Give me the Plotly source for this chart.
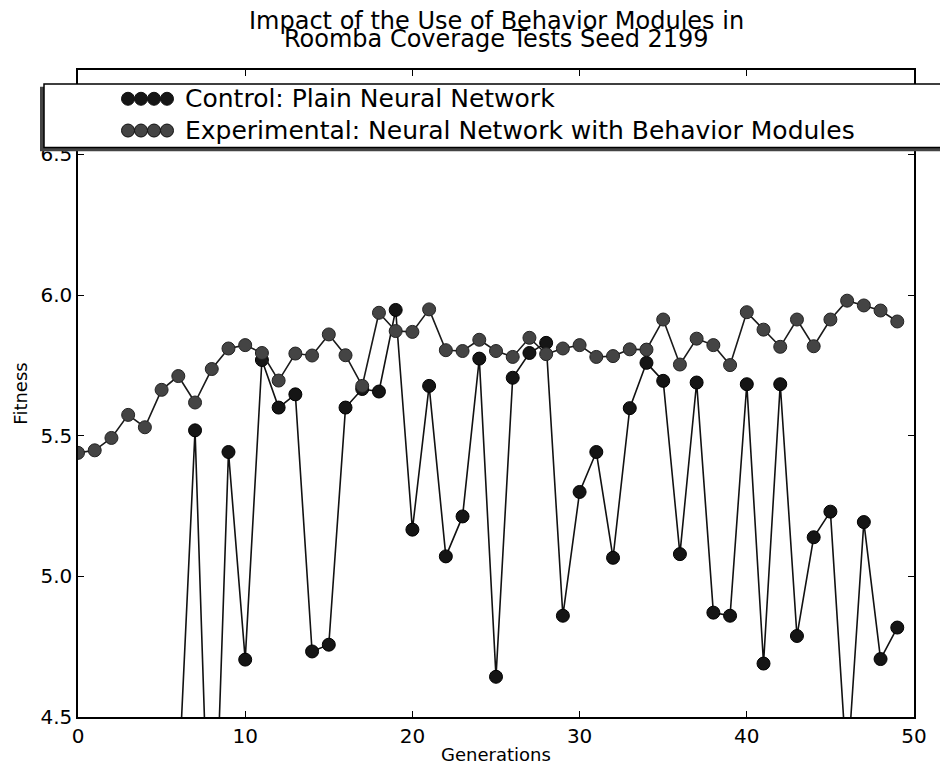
import plotly.graph_objects as go

# ---- data ----
generations = list(range(50))
control = [3.90, 4.00, 3.80, 4.10, 3.90, 4.00, 4.25, 5.519, 3.70, 5.442,
           4.704, 5.769, 5.600, 5.647, 4.733, 4.757, 5.600, 5.666, 5.657, 5.947,
           5.166, 5.677, 5.071, 5.213, 5.774, 4.643, 5.706, 5.794, 5.830, 4.860,
           5.300, 5.442, 5.066, 5.598, 5.759, 5.695, 5.079, 5.689, 4.871, 4.860,
           5.683, 4.690, 5.683, 4.788, 5.139, 5.230, 4.300, 5.193, 4.706, 4.818]
experimental = [5.439, 5.448, 5.492, 5.574, 5.530, 5.663, 5.712, 5.618, 5.737, 5.810,
                5.822, 5.794, 5.696, 5.792, 5.785, 5.860, 5.786, 5.677, 5.937, 5.872,
                5.869, 5.949, 5.804, 5.801, 5.841, 5.801, 5.780, 5.848, 5.790, 5.810,
                5.822, 5.780, 5.783, 5.807, 5.806, 5.913, 5.753, 5.845, 5.822, 5.751,
                5.939, 5.877, 5.816, 5.913, 5.818, 5.913, 5.980, 5.963, 5.945, 5.906]
series_names = ["Control: Plain Neural Network",
                "Experimental: Neural Network with Behavior Modules"]
x_ticks = [0, 10, 20, 30, 40, 50]
y_ticks = [4.5, 5.0, 5.5, 6.0, 6.5]
title_lines = ["Impact of the Use of Behavior Modules in",
               "Roomba Coverage Tests Seed 2199"]

FONT = "DejaVu Sans"
OFF = 8                      # page body margin
W, H = 932, 766
X0, X1, Y0, Y1 = 78, 914, 70, 722   # plot area on the page
L, T = X0 - OFF, Y0 - OFF
R, B = (OFF + W) - X1, (OFF + H) - Y1
PW, PH = X1 - X0, Y1 - Y0


def px(x):
    return (x - X0) / PW


def py(y):
    return (Y1 - y) / PH


fig = go.Figure()
fig.add_trace(go.Scatter(
    x=generations, y=control, mode="lines+markers", name=series_names[0],
    line=dict(color="#111111", width=1.6),
    marker=dict(size=13, color="#151515", line=dict(color="#000000", width=1)),
))
fig.add_trace(go.Scatter(
    x=generations, y=experimental, mode="lines+markers", name=series_names[1],
    line=dict(color="#1a1a1a", width=1.6),
    marker=dict(size=13, color="#444444", line=dict(color="#222222", width=1)),
))

shapes = [
    # legend shadow and box
    dict(type="rect", xref="paper", yref="paper", x0=px(40), x1=px(960),
         y0=py(152), y1=py(87), fillcolor="#444444", line=dict(width=0),
         layer="above"),
    dict(type="rect", xref="paper", yref="paper", x0=px(44), x1=px(962),
         y0=py(148), y1=py(84), fillcolor="white",
         line=dict(color="black", width=1.5), layer="above"),
]
row_y = [99, 131]
dot_colors = ["#151515", "#444444"]
for r, yy in enumerate(row_y):
    for cx in [128, 141, 154, 167]:
        shapes.append(dict(type="circle", xref="paper", yref="paper",
                           xsizemode="pixel", ysizemode="pixel",
                           xanchor=px(cx), yanchor=py(yy),
                           x0=-6.5, x1=6.5, y0=-6.5, y1=6.5,
                           fillcolor=dot_colors[r],
                           line=dict(color="#111111", width=1), layer="above"))

annotations = []
for name, yy in zip(series_names, row_y):
    annotations.append(dict(text=name, xref="paper", yref="paper",
                            x=px(183), y=py(yy), xanchor="left", yanchor="middle",
                            showarrow=False, font=dict(family=FONT, size=25, color="black")))
for line_text, yy in zip(title_lines, [21, 39]):
    annotations.append(dict(text=line_text, xref="paper", yref="paper",
                            x=px(496), y=py(yy), xanchor="center", yanchor="middle",
                            showarrow=False, font=dict(family=FONT, size=24, color="black")))

fig.update_layout(
    width=W, height=H,
    margin=dict(l=L, r=R, t=T, b=B),
    paper_bgcolor="white", plot_bgcolor="white",
    showlegend=False,
    font=dict(family=FONT, color="black"),
    shapes=shapes, annotations=annotations,
)
fig.update_xaxes(
    range=[0, 50], tickvals=x_ticks, ticks="inside", ticklen=6, tickwidth=1,
    tickcolor="black", showline=True, linecolor="black", linewidth=1.5,
    mirror="ticks", showgrid=False, zeroline=False,
    tickfont=dict(family=FONT, size=20),
    title=dict(text="Generations", font=dict(family=FONT, size=18), standoff=2),
)
fig.update_yaxes(
    range=[4.5, 6.8], tickvals=y_ticks, tickformat=".1f", ticks="inside",
    ticklen=6, tickwidth=1, tickcolor="black", showline=True, linecolor="black",
    linewidth=1.5, mirror="ticks", showgrid=False, zeroline=False,
    tickfont=dict(family=FONT, size=20),
    title=dict(text="Fitness", font=dict(family=FONT, size=18), standoff=8),
)

fig.write_html("out.html")
